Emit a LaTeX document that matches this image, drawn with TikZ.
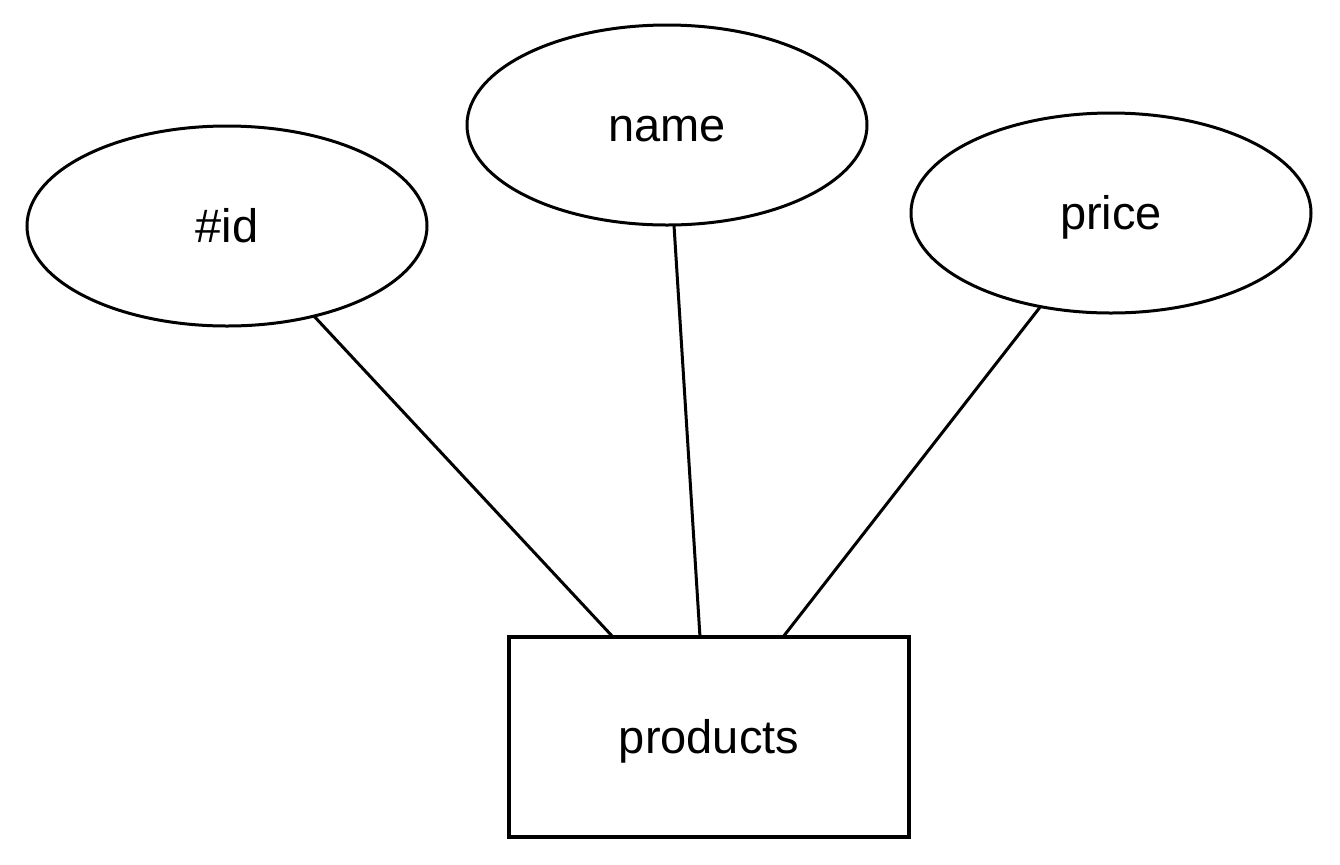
\documentclass[tikz,border=0pt]{standalone}
\usepackage{fontspec}
\setmainfont{Liberation Sans}
\usetikzlibrary{shapes.geometric,calc}

\tikzset{
  attr/.style={draw, ellipse, line width=1.5pt, inner sep=0pt, outer sep=0pt,
    minimum width=200pt, minimum height=100pt, text height=16pt, text depth=0pt},
  entity/.style={draw, rectangle, line width=2pt, inner sep=0pt, outer sep=0pt,
    minimum width=200pt, minimum height=100pt, text height=16pt, text depth=0pt},
  link/.style={line width=1.5pt}
}

\begin{document}
\begin{tikzpicture}[x=0.5pt, y=-0.5pt]
  \fontsize{23.5pt}{28pt}\selectfont
  \useasboundingbox (0,0) rectangle (1340,864);

  % attributes
  \node[attr] (id)    at (227,226)  {\#id};
  \node[attr] (name)  at (667,125)  {name};
  \node[attr] (price) at (1111,213) {price};

  % entity
  \node[entity] (prod) at (709,737) {products};

  % attachment points along the top of the entity box
  \coordinate (pA) at ($(prod.north west)!0.26!(prod.north east)$);
  \coordinate (pB) at ($(prod.north west)!0.4775!(prod.north east)$);
  \coordinate (pC) at ($(prod.north west)!0.685!(prod.north east)$);

  % links
  \draw[link] (id.-46.6)     -- (pA);
  \draw[link] (name.-86.6)   -- (pB);
  \draw[link] (price.-127.9) -- (pC);
\end{tikzpicture}
\end{document}
